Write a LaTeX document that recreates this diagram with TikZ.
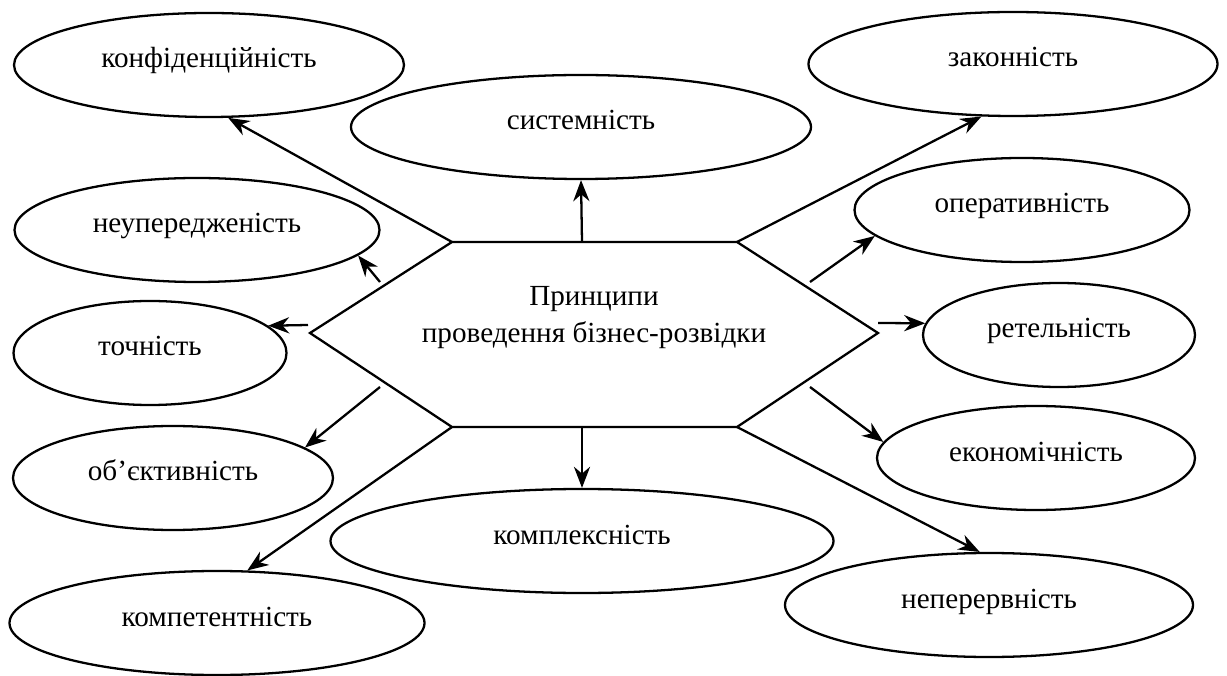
\documentclass[tikz,border=0pt]{standalone}
\usepackage{fontspec}
\setmainfont{Liberation Serif}
\usetikzlibrary{shapes.geometric,arrows.meta}

\begin{document}
\begin{tikzpicture}[>={Stealth[length=6pt,width=4.6pt]}, line width=0.65pt,
  principle/.style={ellipse, draw, inner sep=0pt, minimum height=1.04cm,
    text height=0.2cm, text depth=0.14cm, font=\fontsize{8.3}{10.5}\selectfont}]

\useasboundingbox (0,0) rectangle (12.27,-6.76);

% шестикутник у центрі
\coordinate (TL) at (4.52,-2.42);
\coordinate (TM) at (5.82,-2.42);
\coordinate (TR) at (7.37,-2.42);
\coordinate (R)  at (8.78,-3.33);
\coordinate (BR) at (7.37,-4.27);
\coordinate (BM) at (5.82,-4.27);
\coordinate (BL) at (4.52,-4.27);
\coordinate (L)  at (3.10,-3.33);
\draw (TL) -- (TR) -- (R) -- (BR) -- (BL) -- (L) -- cycle;
\node[align=center, font=\fontsize{8.3}{10.5}\selectfont] (centre) at (5.94,-3.18)
  {Принципи\\проведення бізнес-розвідки};

% еліпси з принципами
\foreach \n/\x/\y/\w/\t in {
    konf/2.09/-0.65/3.90/конфіденційність,
    sys/5.81/-1.27/4.60/системність,
    zak/10.13/-0.64/4.09/законність,
    neup/1.97/-2.30/3.65/неупередженість,
    oper/10.22/-2.10/3.35/оперативність,
    toch/1.50/-3.53/2.73/точність,
    ret/10.59/-3.35/2.72/ретельність,
    obj/1.73/-4.78/3.20/об’єктивність,
    ekon/10.36/-4.58/3.18/економічність,
    kompl/5.82/-5.41/5.03/комплексність,
    komp/2.17/-6.23/4.15/компетентність,
    neper/9.89/-6.05/4.08/неперервність} {
  \node[principle, minimum width=\w cm] (\n) at (\x,\y) {\t};
}

% початки коротких стрілок біля шестикутника
\coordinate (s-neup) at (3.80,-2.82);
\coordinate (s-toch) at (3.08,-3.25);
\coordinate (s-obj)  at (3.80,-3.87);
\coordinate (s-oper) at (8.10,-2.82);
\coordinate (s-ret)  at (8.78,-3.23);
\coordinate (s-ekon) at (8.10,-3.87);

% стрілки
\foreach \a/\b in {TL/konf.-70, TM/sys.south, TR/zak.-121, BL/komp.60,
    BM/kompl.north, BR/neper.100, s-neup/neup.-9, s-toch/toch.13,
    s-obj/obj.13, s-oper/oper.-170, s-ret/ret.175, s-ekon/ekon.174} {
  \draw[->] (\a) -- (\b);
}

\end{tikzpicture}
\end{document}
